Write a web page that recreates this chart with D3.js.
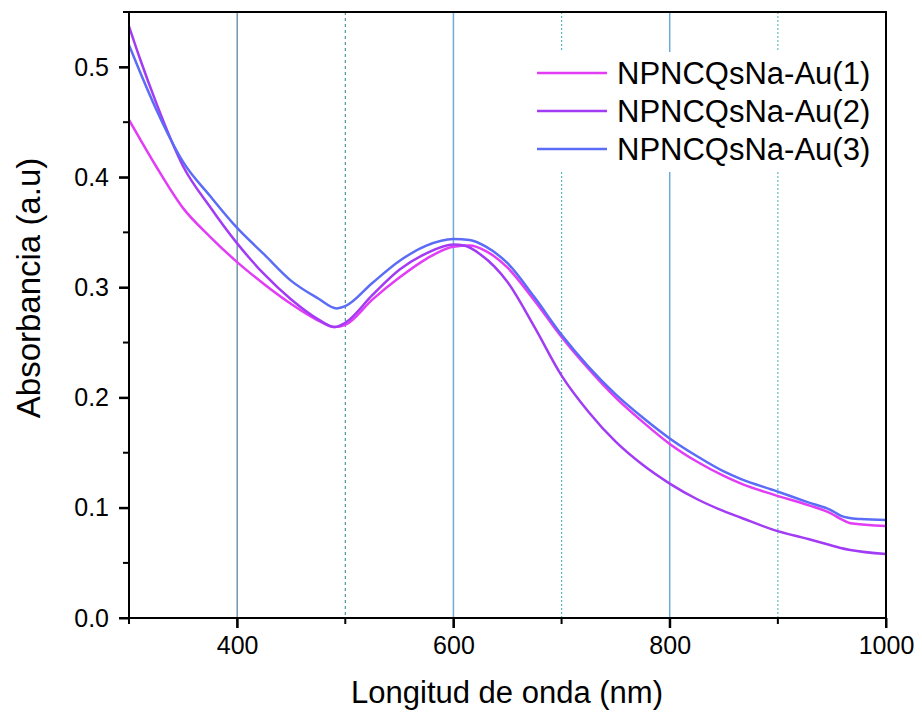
<!DOCTYPE html>
<html>
<head>
<meta charset="utf-8">
<script src="https://cdn.jsdelivr.net/npm/d3@7"></script>
<style>
  body { margin: 0; background: #fff; }
  svg { display: block; font-family: Arial, "Liberation Sans", sans-serif; }
</style>
</head>
<body>
<svg id="chart" width="922" height="714"></svg>
<script>
const seriesNames = ["NPNCQsNa-Au(1)", "NPNCQsNa-Au(2)", "NPNCQsNa-Au(3)"];
const seriesColors = ["#e23cf6", "#a23cf4", "#5b6cf6"];

const wl1 = [300,310,325,350,375,400,425,450,475,490,500,525,550,575,600,615,630,650,675,700,725,750,775,800,825,850,866,896,928,949,958,967,1000];
const abs1 = [0.452,0.435,0.410,0.372,0.346,0.323,0.303,0.285,0.270,0.264,0.266,0.289,0.309,0.326,0.337,0.338,0.333,0.318,0.288,0.255,0.226,0.200,0.178,0.158,0.142,0.129,0.122,0.112,0.1025,0.095,0.090,0.086,0.0835];

const wl2 = [300,310,325,350,375,400,425,450,475,490,500,525,550,575,600,610,625,650,675,700,725,750,775,800,825,850,866,896,928,949,958,967,1000];
const abs2 = [0.537,0.508,0.468,0.410,0.373,0.340,0.312,0.289,0.271,0.264,0.268,0.293,0.316,0.331,0.339,0.338,0.330,0.305,0.264,0.220,0.187,0.160,0.139,0.122,0.108,0.097,0.091,0.080,0.0717,0.066,0.0635,0.0617,0.058];

const wl3 = [300,310,325,350,375,400,425,450,475,492,500,525,550,575,600,615,630,650,675,700,725,750,775,800,825,850,866,896,928,949,958,965,977,1000];
const abs3 = [0.520,0.496,0.462,0.414,0.383,0.354,0.330,0.306,0.290,0.281,0.283,0.304,0.324,0.338,0.344,0.343,0.337,0.322,0.291,0.257,0.228,0.203,0.182,0.163,0.147,0.133,0.126,0.116,0.105,0.098,0.093,0.091,0.0898,0.089];

const xTickLabels = [400, 600, 800, 1000];
const xMinorTicks = [300, 500, 700, 900];
const yTickLabels = [0.0, 0.1, 0.2, 0.3, 0.4, 0.5];
const yMinorTicks = [0.05, 0.15, 0.25, 0.35, 0.45, 0.55];
const gridValues = [400, 500, 600, 700, 800, 900];
const gridColors = ["#2a5f88", "#2a7f88", "#72a9dc", "#56b8b8", "#6eaad8", "#5fbfbf"];
const gridDash = [null, "3,3", null, "2,2", null, "2,2"];
const gridWidth = [1, 1, 1.5, 1.2, 1.5, 1.2];

const series = [
  {name: seriesNames[0], color: seriesColors[0], pts: wl1.map((w,i)=>[w, abs1[i]])},
  {name: seriesNames[1], color: seriesColors[1], pts: wl2.map((w,i)=>[w, abs2[i]])},
  {name: seriesNames[2], color: seriesColors[2], pts: wl3.map((w,i)=>[w, abs3[i]])}
];

const svg = d3.select("#chart");
const L = 129, R = 886, T = 12, B = 618;
const x = d3.scaleLinear().domain([300, 1000]).range([L, R]);
const y = d3.scaleLinear().domain([0, 0.55]).range([B, T]);

// grid lines
svg.append("g").selectAll("line").data(gridValues).join("line")
  .attr("x1", d => x(d)).attr("x2", d => x(d))
  .attr("y1", T).attr("y2", B)
  .attr("stroke", (d,i) => gridColors[i])
  .attr("stroke-width", (d,i) => gridWidth[i])
  .attr("stroke-dasharray", (d,i) => gridDash[i]);

// legend background (covers grid)
svg.append("rect").attr("x", 527).attr("y", 52).attr("width", 358).attr("height", 120).attr("fill", "#fff");

// lines
const line = d3.line().x(d => x(d[0])).y(d => y(d[1])).curve(d3.curveMonotoneX);
svg.append("clipPath").attr("id", "clip").append("rect")
  .attr("x", L).attr("y", T).attr("width", R - L).attr("height", B - T);
svg.append("g").attr("clip-path", "url(#clip)").selectAll("path").data(series).join("path")
  .attr("d", d => line(d.pts))
  .attr("fill", "none")
  .attr("stroke", d => d.color)
  .attr("stroke-width", 2.5)
  .attr("stroke-linejoin", "round");

// axes (labels via d3 axis)
const xAxis = d3.axisBottom(x).tickValues(xTickLabels).tickFormat(d3.format("d")).tickSizeInner(10).tickSizeOuter(0).tickPadding(8);
const yAxis = d3.axisLeft(y).tickValues(yTickLabels).tickFormat(d3.format(".1f")).tickSizeInner(10).tickSizeOuter(0).tickPadding(10);

function styleAxis(g) {
  g.attr("font-size", 25).attr("font-family", "Arial, 'Liberation Sans', sans-serif");
  g.select(".domain").remove();
  g.selectAll(".tick line").attr("stroke", "#000").attr("stroke-width", 2);
  g.selectAll(".tick text").attr("font-size", 25).attr("fill", "#000");
}
svg.append("g").attr("transform", `translate(0,${B})`).call(xAxis).call(styleAxis);
svg.append("g").attr("transform", `translate(${L},0)`).call(yAxis).call(styleAxis);

// explicit tick marks (major + minor)
const tk = svg.append("g").attr("stroke", "#000").attr("stroke-width", 2);
tk.selectAll("line.xmaj").data(xTickLabels).join("line").attr("class", "xmaj")
  .attr("x1", d => x(d)).attr("x2", d => x(d)).attr("y1", B).attr("y2", B + 10);
tk.selectAll("line.xmin").data(xMinorTicks).join("line").attr("class", "xmin")
  .attr("x1", d => x(d)).attr("x2", d => x(d)).attr("y1", B).attr("y2", B + 6);
tk.selectAll("line.ymaj").data(yTickLabels).join("line").attr("class", "ymaj")
  .attr("y1", d => y(d)).attr("y2", d => y(d)).attr("x1", L).attr("x2", L - 10);
tk.selectAll("line.ymin").data(yMinorTicks).join("line").attr("class", "ymin")
  .attr("y1", d => y(d)).attr("y2", d => y(d)).attr("x1", L).attr("x2", L - 6);

// frame
svg.append("rect").attr("x", L).attr("y", T).attr("width", R - L).attr("height", B - T)
  .attr("fill", "none").attr("stroke", "#000").attr("stroke-width", 2);

// legend
const leg = svg.append("g");
series.forEach((s, i) => {
  const yy = 73 + i * 38;
  leg.append("line").attr("x1", 537).attr("x2", 607).attr("y1", yy).attr("y2", yy)
    .attr("stroke", s.color).attr("stroke-width", 2.5);
  leg.append("text").attr("x", 617).attr("y", yy).attr("dy", "0.36em")
    .attr("font-size", 31).attr("fill", "#000").text(s.name);
});

// axis titles
svg.append("text").attr("x", 507).attr("y", 703)
  .attr("text-anchor", "middle").attr("font-size", 31).attr("fill", "#000")
  .text("Longitud de onda (nm)");
svg.append("text").attr("transform", `translate(40,288) rotate(-90)`)
  .attr("text-anchor", "middle").attr("font-size", 33).attr("fill", "#000")
  .text("Absorbancia (a.u)");
</script>
</body>
</html>
